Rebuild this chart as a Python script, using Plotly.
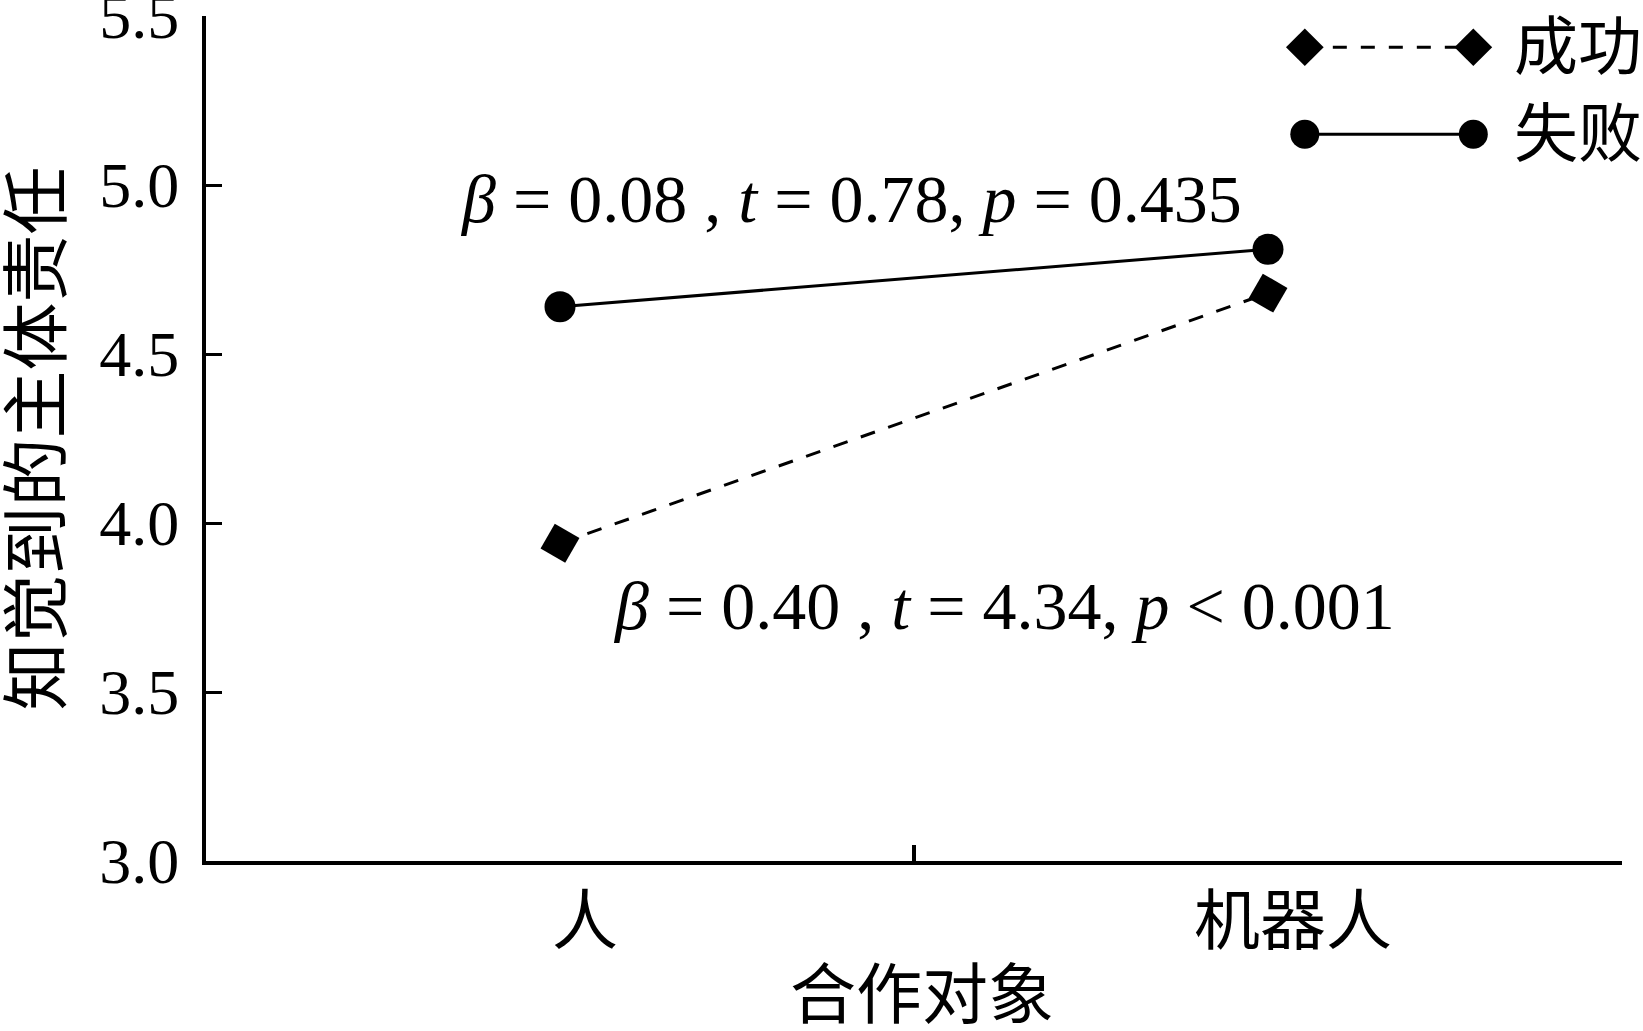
import plotly.graph_objects as go

categories = ["人", "机器人"]
success_vals = [3.94, 4.68]
failure_vals = [4.64, 4.81]
series_names = ["成功", "失败"]
y_ticks = [3.0, 3.5, 4.0, 4.5, 5.0, 5.5]
x_title = "合作对象"
y_title = "知觉到的主体责任"
stat_texts = [
    "<i>β</i> = 0.08 , <i>t</i> = 0.78, <i>p</i> = 0.435",
    "<i>β</i> = 0.40 , <i>t</i> = 4.34, <i>p</i> < 0.001",
]

FONT = "Liberation Serif, Times New Roman, Noto Sans CJK SC, serif"

fig = go.Figure()

# data traces
fig.add_trace(go.Scatter(
    x=categories, y=success_vals, mode="lines+markers", name=series_names[0],
    line=dict(color="black", width=3, dash="15px,14px"),
    marker=dict(symbol="diamond", size=31, color="black", angle=-15),
    showlegend=False, cliponaxis=False,
))
fig.add_trace(go.Scatter(
    x=categories, y=failure_vals, mode="lines+markers", name=series_names[1],
    line=dict(color="black", width=3),
    marker=dict(symbol="circle", size=31, color="black"),
    showlegend=False, cliponaxis=False,
))

# custom legend samples (overlay axis in fractional coordinates)
leg_x = [0.776, 0.895]
leg_y = [0.963, 0.860]
fig.add_trace(go.Scatter(
    x=leg_x, y=[leg_y[0]] * 2, xaxis="x2", yaxis="y2", mode="lines+markers",
    line=dict(color="black", width=3, dash="14px,14px"),
    marker=dict(symbol="diamond", size=29, color="black"),
    showlegend=False, hoverinfo="skip", cliponaxis=False,
))
fig.add_trace(go.Scatter(
    x=leg_x, y=[leg_y[1]] * 2, xaxis="x2", yaxis="y2", mode="lines+markers",
    line=dict(color="black", width=3),
    marker=dict(symbol="circle", size=29, color="black"),
    showlegend=False, hoverinfo="skip", cliponaxis=False,
))

annotations = []
for name, yy in zip(series_names, leg_y):
    annotations.append(dict(
        text=name, xref="paper", yref="paper", x=0.922, y=yy,
        xanchor="left", yanchor="middle", showarrow=False,
        font=dict(family=FONT, size=64, color="black"),
    ))
annotations.append(dict(
    text=stat_texts[0], xref="paper", yref="paper", x=0.178, y=0.783,
    xanchor="left", yanchor="middle", showarrow=False,
    font=dict(family=FONT, size=68, color="black"),
))
annotations.append(dict(
    text=stat_texts[1], xref="paper", yref="paper", x=0.286, y=0.302,
    xanchor="left", yanchor="middle", showarrow=False,
    font=dict(family=FONT, size=68, color="black"),
))
annotations.append(dict(
    text=x_title, xref="paper", yref="paper", x=0.506, y=-0.159,
    xanchor="center", yanchor="middle", showarrow=False,
    font=dict(family=FONT, size=66, color="black"),
))

fig.update_layout(
    width=1643, height=1031,
    margin=dict(l=206, r=21, t=16, b=170),
    paper_bgcolor="white", plot_bgcolor="white",
    font=dict(family=FONT, color="black"),
    annotations=annotations,
    xaxis=dict(
        type="category", categoryorder="array", categoryarray=categories,
        range=[-0.5, 1.5], tickson="boundaries",
        ticks="inside", ticklen=16, tickwidth=4, tickcolor="black",
        showline=True, linewidth=4, linecolor="black",
        showgrid=False, zeroline=False,
        tickfont=dict(family=FONT, size=66),
        ticklabelshift=25, ticklabelstandoff=0,
        automargin=False,
    ),
    yaxis=dict(
        range=[3.0, 5.5], tickvals=y_ticks, tickformat=".1f",
        ticks="inside", ticklen=16, tickwidth=3, tickcolor="black",
        showline=True, linewidth=4, linecolor="black",
        showgrid=False, zeroline=False,
        tickfont=dict(family=FONT, size=64),
        ticklabelstandoff=10, ticklabeloverflow="allow",
        title=dict(text=y_title, font=dict(family=FONT, size=68), standoff=22),
        automargin=False,
    ),
    xaxis2=dict(overlaying="x", range=[0, 1], visible=False),
    yaxis2=dict(overlaying="y", range=[0, 1], visible=False),
)

fig.write_html(
    "out.html",
    config={"displayModeBar": False},
    post_script="document.body.style.margin='0';document.body.style.overflow='hidden';",
)
